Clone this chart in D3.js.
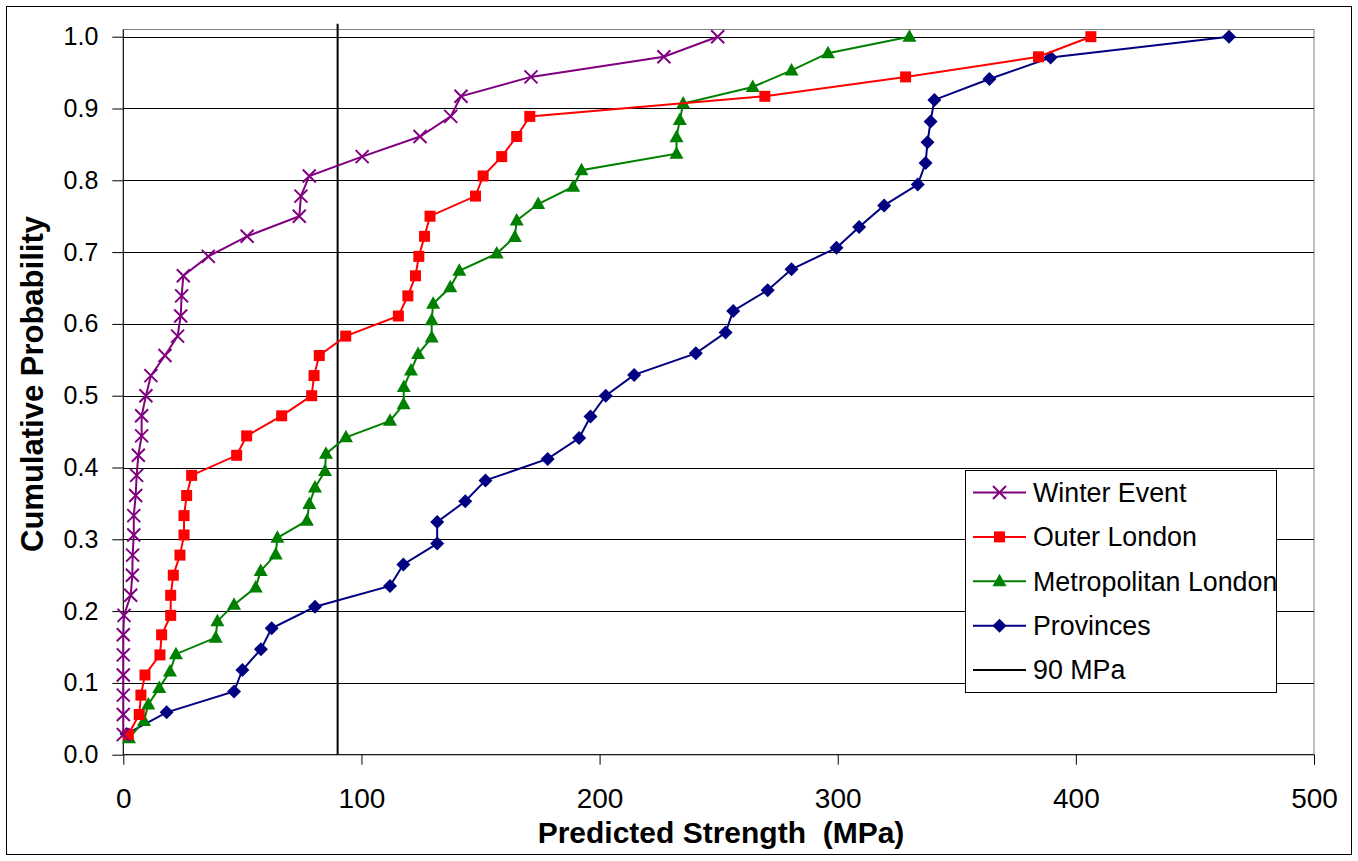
<!DOCTYPE html>
<html>
<head>
<meta charset="utf-8">
<script src="https://cdn.jsdelivr.net/npm/d3@7"></script>
<style>
  body { margin: 0; background: #fff; }
  svg text { font-family: "Liberation Sans", Arial, sans-serif; fill: #000; }
</style>
</head>
<body>
<div id="chart"></div>
<script>
// cumulative probability levels
const prob36 = [0.028, 0.056, 0.083, 0.111, 0.139, 0.167, 0.194, 0.222, 0.250, 0.278, 0.306, 0.333,
    0.361, 0.389, 0.417, 0.444, 0.472, 0.500, 0.528, 0.556, 0.583, 0.611, 0.639, 0.667,
    0.694, 0.722, 0.750, 0.778, 0.806, 0.833, 0.861, 0.889, 0.917, 0.944, 0.972, 1.000]
const metroProb = [0.023, 0.047, 0.070, 0.093, 0.116, 0.140, 0.163, 0.186, 0.209, 0.233, 0.256,
    0.279, 0.302, 0.326, 0.349, 0.372, 0.395, 0.419, 0.442, 0.465, 0.488, 0.512, 0.535,
    0.558, 0.581, 0.605, 0.628, 0.651, 0.674, 0.698, 0.721, 0.744, 0.767, 0.791, 0.814,
    0.837, 0.860, 0.884, 0.907, 0.930, 0.953, 0.977, 1.000]
const provProb = [0.029, 0.059, 0.088, 0.118, 0.147, 0.176, 0.206, 0.235, 0.265, 0.294, 0.324,
    0.353, 0.382, 0.412, 0.441, 0.471, 0.500, 0.529, 0.559, 0.588, 0.618, 0.647, 0.676,
    0.706, 0.735, 0.765, 0.794, 0.824, 0.853, 0.882, 0.912, 0.941, 0.971, 1.000]

// predicted strength (MPa)
const winterMPa = [0, 0, 0, 0, 0, 0, 0.3, 3.1, 3.8, 3.9, 4.4, 4.4, 5.2, 5.6, 6.3, 7.7, 7.7, 9.5,
    11.6, 17.5, 22.8, 24.1, 24.5, 25.2, 35.7, 52.0, 73.9, 74.6, 78.1, 100.3, 124.6, 137.5,
    141.8, 171.2, 227.0, 249.6]
const outerMPa = [2.1, 6.7, 7.4, 9.1, 15.4, 16.1, 19.9, 19.9, 21.0, 23.8, 25.5, 25.5, 26.6, 28.7,
    47.6, 51.8, 66.5, 79.1, 80.1, 82.3, 93.4, 115.5, 119.5, 122.7, 124.1, 126.5, 128.8,
    147.9, 151.1, 158.9, 165.2, 170.7, 269.4, 328.5, 384.3, 406.3]
const metroMPa = [2.4, 8.7, 10.5, 15.1, 19.6, 22.1, 38.8, 39.5, 46.5, 55.6, 57.7, 64.0, 64.7,
    77.1, 78.1, 80.5, 84.7, 85.1, 93.5, 112.0, 117.7, 117.8, 120.8, 123.8, 129.5, 129.5,
    130.1, 137.3, 141.1, 156.8, 164.4, 165.2, 174.2, 188.9, 192.4, 232.3, 232.3, 233.7,
    235.1, 264.3, 280.6, 295.9, 330.1]
const provMPa = [1.4, 18.2, 46.5, 50.0, 57.8, 62.3, 80.5, 112.0, 117.6, 131.8, 131.8, 143.6,
    152.1, 178.2, 191.4, 196.2, 202.6, 214.5, 240.4, 252.9, 256.1, 270.6, 280.6, 299.5,
    309.0, 319.5, 333.6, 336.9, 337.7, 339.0, 340.6, 363.7, 389.4, 464.3]

const limitMPa = 90
const limitProb = [0, 1.018]

const seriesNames = ["Winter Event", "Outer London", "Metropolitan London", "Provinces", "90 MPa"]
const xTicks = [0, 100, 200, 300, 400, 500]
const yTicks = [0, 0.1, 0.2, 0.3, 0.4, 0.5, 0.6, 0.7, 0.8, 0.9, 1.0]

document.addEventListener("DOMContentLoaded", draw)

function draw(){
    const width = 1358
    const height = 861
    const plot = {left: 123.3, right: 1314, top: 29.5, bottom: 754.7}

    const svg = d3.select("#chart").append("svg")
        .attr("width", width)
        .attr("height", height)

    // chart frame
    svg.append("rect")
        .attr("x", 6.5).attr("y", 6.5)
        .attr("width", width - 13).attr("height", height - 13)
        .style("fill", "none").style("stroke", "#000").style("stroke-width", 1)

    const x = d3.scaleLinear().domain([0, 500]).range([plot.left, plot.right])
    const y = d3.scaleLinear().domain([0, 1]).range([plot.bottom, 36.7])

    // plot area border
    svg.append("rect")
        .attr("x", plot.left).attr("y", plot.top)
        .attr("width", plot.right - plot.left).attr("height", plot.bottom - plot.top)
        .style("fill", "none").style("stroke", "#808080").style("stroke-width", 1)

    // horizontal gridlines
    svg.append("g")
        .selectAll("line")
        .data(yTicks.slice(1))
        .enter()
        .append("line")
        .attr("x1", plot.left).attr("x2", plot.right)
        .attr("y1", d => Math.round(y(d)) + 0.5)
        .attr("y2", d => Math.round(y(d)) + 0.5)
        .style("stroke", "#000").style("stroke-width", 1)

    // axes
    const yAxis = svg.append("g")
        .attr("transform", "translate(" + plot.left + ",0)")
        .call(d3.axisLeft(y).tickValues(yTicks).tickFormat(d3.format(".1f"))
            .tickSizeInner(11).tickSizeOuter(0).tickPadding(14))
    yAxis.select(".domain").remove()
    yAxis.append("line")
        .attr("x1", 0).attr("x2", 0).attr("y1", plot.top).attr("y2", plot.bottom)
        .style("stroke", "#000")
    yAxis.selectAll("text").style("font-size", "25px")

    const xAxis = svg.append("g")
        .attr("transform", "translate(0," + plot.bottom + ")")
        .call(d3.axisBottom(x).tickValues(xTicks).tickFormat(d3.format("d"))
            .tickSizeInner(10).tickSizeOuter(0).tickPadding(23))
    xAxis.select(".domain").remove()
    xAxis.append("line")
        .attr("x1", plot.left).attr("x2", plot.right).attr("y1", 0).attr("y2", 0)
        .style("stroke", "#000")
    xAxis.selectAll("text").style("font-size", "28px")
    svg.selectAll(".tick line").style("stroke", "#000")

    // axis titles
    svg.append("text")
        .attr("transform", "translate(43," + 384 + ") rotate(-90)")
        .attr("text-anchor", "middle")
        .style("font-size", "31px").style("font-weight", "bold")
        .text("Cumulative Probability")
    svg.append("text")
        .attr("x", 721)
        .attr("y", 843)
        .attr("text-anchor", "middle")
        .style("font-size", "30px").style("font-weight", "bold")
        .style("white-space", "pre")
        .text("Predicted Strength  (MPa)")

    // 90 MPa line
    svg.append("line")
        .attr("x1", x(limitMPa)).attr("x2", x(limitMPa))
        .attr("y1", y(limitProb[0])).attr("y2", y(limitProb[1]))
        .style("stroke", "#000").style("stroke-width", 2)

    const series = [
        {name: seriesNames[0], xs: winterMPa, ps: prob36, color: "#800080", marker: "cross"},
        {name: seriesNames[1], xs: outerMPa, ps: prob36, color: "#ff0000", marker: "square"},
        {name: seriesNames[2], xs: metroMPa, ps: metroProb, color: "#008000", marker: "triangle"},
        {name: seriesNames[3], xs: provMPa, ps: provProb, color: "#000080", marker: "diamond"}
    ]

    const line = d3.line().x(d => x(d[0])).y(d => y(d[1]))

    // draw provinces first so later series sit on top like the original
    series.slice().reverse().forEach(s => {
        const pts = s.xs.map((v, i) => [v, s.ps[i]])
        const g = svg.append("g")
        g.append("path")
            .attr("d", line(pts))
            .style("fill", "none").style("stroke", s.color).style("stroke-width", 2)
        pts.forEach(p => drawMarker(g, s.marker, x(p[0]), y(p[1]), s.color))
    })

    // legend
    const lg = svg.append("g")
    lg.append("rect")
        .attr("x", 965.5).attr("y", 470.5).attr("width", 311).attr("height", 222)
        .style("fill", "#fff").style("stroke", "#000").style("stroke-width", 1)
    seriesNames.forEach((name, i) => {
        const ly = 492.5 + i * 44.4
        const s = series[i]
        lg.append("line")
            .attr("x1", 973).attr("x2", 1026).attr("y1", ly).attr("y2", ly)
            .style("stroke", s ? s.color : "#000").style("stroke-width", 2)
        if (s) drawMarker(lg, s.marker, 999.5, ly, s.color)
        lg.append("text")
            .attr("x", 1033).attr("y", ly)
            .attr("dy", "0.35em")
            .style("font-size", "26.8px")
            .text(name)
    })
}

function drawMarker(g, type, cx, cy, color){
    if (type === "cross") {
        const r = 6.5
        g.append("path")
            .attr("d", `M${cx - r},${cy - r}L${cx + r},${cy + r}M${cx - r},${cy + r}L${cx + r},${cy - r}`)
            .style("stroke", color).style("stroke-width", 2).style("fill", "none")
    } else if (type === "square") {
        g.append("rect")
            .attr("x", cx - 5.5).attr("y", cy - 5.5).attr("width", 11).attr("height", 11)
            .style("fill", color)
    } else if (type === "triangle") {
        g.append("path")
            .attr("d", `M${cx},${cy - 7.5}L${cx + 7},${cy + 5}L${cx - 7},${cy + 5}Z`)
            .style("fill", color)
    } else if (type === "diamond") {
        g.append("path")
            .attr("d", `M${cx},${cy - 7}L${cx + 7},${cy}L${cx},${cy + 7}L${cx - 7},${cy}Z`)
            .style("fill", color)
    }
}
</script>
</body>
</html>
